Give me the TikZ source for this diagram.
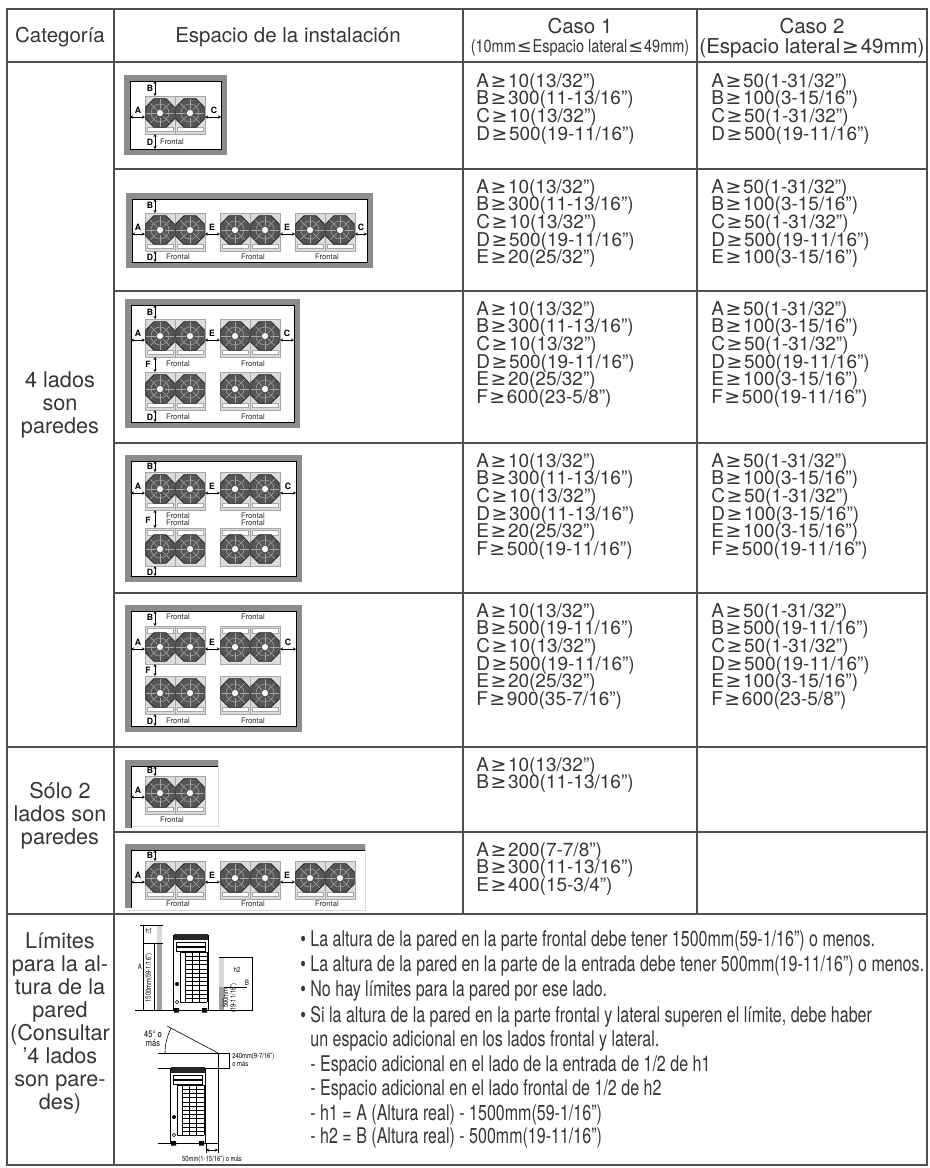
\documentclass[tikz,border=0pt]{standalone}
\usepackage{fontspec}
\setmainfont{TeX Gyre Heros}
\newfontfamily\condfont[FakeStretch=0.8]{TeX Gyre Heros}
\newfontfamily\subfont[FakeStretch=0.82]{TeX Gyre Heros}
\newfontfamily\notefont[FakeStretch=0.74]{TeX Gyre Heros}
\newfontfamily\symfont{DejaVu Sans}
\usetikzlibrary{arrows.meta}
\definecolor{txt}{HTML}{363636}
\definecolor{rulegray}{HTML}{505050}
\definecolor{wallgray}{HTML}{8C8C8C}
\definecolor{fandark}{HTML}{555555}
\definecolor{fanlight}{HTML}{A8A8A8}
\definecolor{housing}{HTML}{DCDCDC}
\newcommand\gte{\makebox[1em]{\symfont ≥}}
\newcommand\lte{\makebox[0.95em]{\symfont ≤}}
\newcommand\inch{”}
\lineskiplimit=-20pt
\tikzset
{
    rule/.style     = {draw=rulegray, line width=0.9pt},
    hdr/.style      = {font=\fontsize{12.3}{15}\selectfont, text=txt, align=center, inner sep=0pt},
    subhdr/.style   = {font=\subfont\fontsize{10.6}{12}\selectfont, text=txt, align=center, inner sep=0pt},
    cat/.style      = {font=\fontsize{13}{13.8}\selectfont, text=txt, align=center, inner sep=0pt},
    cell/.style     = {font=\fontsize{11.4}{10.6}\selectfont, text=txt, align=left, anchor=north west, inner sep=0pt},
    note/.style     = {font=\notefont\fontsize{13}{12}\selectfont, text=txt, anchor=base west, inner sep=0pt},
    wall/.style     = {draw=wallgray, line width=3.6pt},
    wallin/.style   = {draw=black, line width=0.35pt},
    faint/.style    = {draw=black!15, line width=0.3pt},
    gap/.style      = {{Stealth[length=1.8pt,width=1.8pt]}-{Stealth[length=1.8pt,width=1.8pt]}, line width=0.35pt},
    lbl/.style      = {font=\bfseries\fontsize{5.2}{5}\selectfont, inner sep=0pt},
    frontal/.style  = {font=\fontsize{4.6}{5}\selectfont, text=black!85, inner sep=0pt},
    tiny/.style     = {font=\condfont\fontsize{4.4}{4.6}\selectfont, inner sep=0pt, align=center},
    thinline/.style = {draw=black, line width=0.35pt},
    unitpair/.pic   =
    {
        \fill[housing] (-30,-19) rectangle (30,19);
        \draw[draw=gray!70, line width=0.3pt] (-30,-19) rectangle (30,19) (0,-19) -- (0,19);
        \foreach \s in {-1,1}
        {
            \draw[draw=gray!70, fill=white, line width=0.3pt] (\s*2,12) rectangle (\s*28,16.5);
            \begin{scope}[shift={(\s*15,-2)}]
                \filldraw[fill=fandark, draw=black!85, line width=0.45pt] (22.5:15.5) -- (67.5:15.5) -- (112.5:15.5) -- (157.5:15.5) -- (202.5:15.5) -- (247.5:15.5) -- (292.5:15.5) -- (337.5:15.5) -- cycle;
                \foreach \a in {0,45,...,315}
                    \draw[fanlight, line width=0.35pt] (\a:4.5) -- (\a:14);
                \draw[fanlight, line width=0.3pt] (0,0) circle (9);
                \filldraw[fill=white, draw=black!70, line width=0.3pt] (0,0) circle (3.5);
            \end{scope}
        }
    },
    unitfront/.pic  =
    {
        \draw[line width=0.6pt] (0,0) rectangle (35,75);
        \fill[black!85] (0.5,-1) rectangle (34.5,5);
        \draw[line width=0.3pt] (3,7) rectangle (32,11) (3,12) rectangle (32,16);
        \draw[line width=0.4pt] (7,17) rectangle (12,67);
        \foreach \r in {0,...,12}
            \draw[line width=0.35pt] (12,17+\r*4.2) -- (34,17+\r*4.2);
        \foreach \c in {12,19.3,26.6,34}
            \draw[line width=0.35pt] (\c,17) -- (\c,67.4);
        \fill (4,49) circle (2);
        \draw[line width=0.3pt] (4,67) circle (1.8);
        \fill (1,73) rectangle (6,77.5) (29,73) rectangle (34,77.5);
    }
}

\begin{document}
\begin{tikzpicture}[x=0.6pt, y=-0.6pt]
    \useasboundingbox (0,0) rectangle (930,1168);

    % table rules
    \draw[rule] (7,9) rectangle (927,1165);
    \draw[rule] (7,62) -- (927,62);
    \draw[rule] (114,9) -- (114,1165);
    \draw[rule] (463,9) -- (463,914);
    \draw[rule] (697,9) -- (697,914);
    \foreach \y in {169,291,443,593,832}
        \draw[rule] (114,\y) -- (927,\y);
    \foreach \y in {747,914}
        \draw[rule] (7,\y) -- (927,\y);

    % header
    \node[hdr] (hcat) at (60,37) {Categoría};
    \node[hdr] (hesp) at (288,37) {Espacio de la instalación};
    \node[hdr] (hc1) at (580,26) {Caso 1};
    \node[subhdr] (hc1sub) at (580,48) {(10mm\lte Espacio lateral\lte 49mm)};
    \node[hdr] (hc2) at (812,26) {Caso 2};
    \node[hdr] (hc2sub) at (812,48) {(Espacio lateral\gte 49mm)};

    % categories
    \node[cat] (cat4) at (60,405) {4 lados\\son\\paredes};
    \node[cat] (cat2) at (60,816) {Sólo 2\\lados son\\paredes};
    \node[cat] (catlim) at (60,1023) {Límites\\para la al-\\tura de la\\pared\\(Consultar\\'4 lados\\son pare-\\des)};

    % row 1
    \draw[wall] (127,78) rectangle (224,152);
    \draw[wallin] (130,81) rectangle (221,149);
    \pic at (175,115) {unitpair};
    \node[lbl] (b1) at (150,88) {B};
    \draw[gap] (155,81) -- (155,96);
    \node[lbl] (a1) at (138,110) {A};
    \draw[gap] (130,117) -- (145,117);
    \node[lbl] (c1) at (214,110) {C};
    \draw[gap] (205,117) -- (221,117);
    \node[lbl] (d1) at (150,142) {D};
    \draw[gap] (155,134) -- (155,149);
    \node[frontal] (f1) at (172,142) {Frontal};

    % row 2
    \draw[wall] (129,196) rectangle (370,265);
    \draw[wallin] (132,199) rectangle (367,262);
    \foreach \x in {175,250,325}
        \pic at (\x,232) {unitpair};
    \node[lbl] (b2) at (150,205) {B};
    \draw[gap] (155,199) -- (155,213);
    \node[lbl] (a2) at (138,227) {A};
    \draw[gap] (132,234) -- (145,234);
    \node[lbl] (e2a) at (212,227) {E};
    \draw[gap] (205,234) -- (220,234);
    \node[lbl] (e2b) at (287,227) {E};
    \draw[gap] (280,234) -- (295,234);
    \node[lbl] (c2) at (361,227) {C};
    \draw[gap] (355,234) -- (367,234);
    \node[lbl] (d2) at (150,257) {D};
    \draw[gap] (155,251) -- (155,262);
    \node[frontal] (f2a) at (178,257) {Frontal};
    \node[frontal] (f2b) at (253,257) {Frontal};
    \node[frontal] (f2c) at (327,257) {Frontal};

    % row 3
    \draw[wall] (128,302) rectangle (297,425);
    \draw[wallin] (131,305) rectangle (294,422);
    \foreach \x in {175,250}
    {
        \pic at (\x,338) {unitpair};
        \pic at (\x,391) {unitpair};
    }
    \node[lbl] (b3) at (150,312) {B};
    \draw[gap] (155,305) -- (155,319);
    \node[lbl] (a3) at (138,333) {A};
    \draw[gap] (131,340) -- (145,340);
    \node[lbl] (e3) at (212,333) {E};
    \draw[gap] (205,340) -- (220,340);
    \node[lbl] (c3) at (287,333) {C};
    \draw[gap] (280,340) -- (294,340);
    \node[lbl] (ff3) at (148,364) {F};
    \draw[gap] (155,357) -- (155,372);
    \node[frontal] (f3a) at (178,364) {Frontal};
    \node[frontal] (f3b) at (253,364) {Frontal};
    \node[lbl] (d3) at (150,417) {D};
    \draw[gap] (155,410) -- (155,422);
    \node[frontal] (f3c) at (178,417) {Frontal};
    \node[frontal] (f3d) at (253,417) {Frontal};

    % row 4
    \draw[wall] (128,458) rectangle (299,579);
    \draw[wallin] (131,461) rectangle (296,576);
    \foreach \x in {175,250}
    {
        \pic at (\x,491) {unitpair};
        \pic[yscale=-1] at (\x,547) {unitpair};
    }
    \node[lbl] (b4) at (150,466) {B};
    \draw[gap] (155,461) -- (155,472);
    \node[lbl] (a4) at (138,486) {A};
    \draw[gap] (131,493) -- (145,493);
    \node[lbl] (e4) at (212,486) {E};
    \draw[gap] (205,493) -- (220,493);
    \node[lbl] (c4) at (288,486) {C};
    \draw[gap] (280,493) -- (296,493);
    \node[lbl] (ff4) at (148,520) {F};
    \draw[gap] (155,510) -- (155,528);
    \node[frontal] (f4a) at (178,516) {Frontal};
    \node[frontal] (f4b) at (253,516) {Frontal};
    \node[frontal] (f4c) at (178,523) {Frontal};
    \node[frontal] (f4d) at (253,523) {Frontal};
    \node[lbl] (d4) at (150,572) {D};
    \draw[gap] (155,566) -- (155,576);

    % row 5
    \draw[wall] (128,608) rectangle (299,729);
    \draw[wallin] (131,611) rectangle (296,726);
    \foreach \x in {175,250}
    {
        \pic[yscale=-1] at (\x,645) {unitpair};
        \pic at (\x,695) {unitpair};
    }
    \node[lbl] (b5) at (150,617) {B};
    \draw[gap] (155,611) -- (155,626);
    \node[frontal] (f5a) at (178,617) {Frontal};
    \node[frontal] (f5b) at (253,617) {Frontal};
    \node[lbl] (a5) at (138,642) {A};
    \draw[gap] (131,649) -- (145,649);
    \node[lbl] (e5) at (212,642) {E};
    \draw[gap] (205,649) -- (220,649);
    \node[lbl] (c5) at (288,642) {C};
    \draw[gap] (280,649) -- (296,649);
    \node[lbl] (ff5) at (148,670) {F};
    \draw[gap] (155,664) -- (155,676);
    \node[lbl] (d5) at (150,721) {D};
    \draw[gap] (155,714) -- (155,726);
    \node[frontal] (f5c) at (178,721) {Frontal};
    \node[frontal] (f5d) at (253,721) {Frontal};

    % row 6
    \draw[faint] (126,826) -- (218,826) -- (218,760);
    \draw[wall] (128,828) -- (128,763) -- (218,763);
    \draw[wallin] (131,828) -- (131,766) -- (218,766);
    \pic at (175,795) {unitpair};
    \node[lbl] (b6) at (150,770) {B};
    \draw[gap] (155,766) -- (155,776);
    \node[lbl] (a6) at (138,790) {A};
    \draw[gap] (131,797) -- (145,797);
    \node[frontal] (f6) at (172,820) {Frontal};

    % row 7
    \draw[faint] (126,910) -- (365,910) -- (365,845);
    \draw[wall] (128,908) -- (128,847) -- (365,847);
    \draw[wallin] (131,908) -- (131,850) -- (365,850);
    \foreach \x in {175,250,325}
        \pic at (\x,880) {unitpair};
    \node[lbl] (b7) at (150,855) {B};
    \draw[gap] (155,850) -- (155,861);
    \node[lbl] (a7) at (138,875) {A};
    \draw[gap] (131,882) -- (145,882);
    \node[lbl] (e7a) at (212,875) {E};
    \draw[gap] (205,882) -- (220,882);
    \node[lbl] (e7b) at (287,875) {E};
    \draw[gap] (280,882) -- (295,882);
    \node[frontal] (f7a) at (178,904) {Frontal};
    \node[frontal] (f7b) at (253,904) {Frontal};
    \node[frontal] (f7c) at (327,904) {Frontal};

    % wall height limits, side view
    \draw[thinline] (135,1010) -- (253,1010);
    \fill[gray!30] (157,925) rectangle (162,943);
    \fill[gray!75] (157,943) rectangle (162,1010);
    \draw[thinline] (143,925) -- (143,1010);
    \draw[thinline] (140,925) -- (163,925);
    \draw[thinline] (143,943) -- (163,943);
    \draw[thinline] (154,943) -- (154,1010);
    \node[tiny] (h1) at (149,931) {h1};
    \node[tiny, anchor=east] (dima) at (142,967) {A};
    \node[tiny, rotate=90] (d1500) at (149,978) {1500mm(59-1/16\inch)};
    \pic at (173,935) {unitfront};
    \fill[gray!30] (219,957) rectangle (224,987);
    \fill[gray!75] (219,987) rectangle (224,1010);
    \draw[thinline] (219,957) -- (253,957);
    \draw[thinline] (252,957) -- (252,1010);
    \draw[thinline] (224,987) -- (247,987);
    \node[tiny] (h2) at (237,970) {h2};
    \node[tiny] (dimb) at (247,983) {B};
    \node[tiny, rotate=90] (d500) at (230,998) {500mm\\(19-11/16\inch)};

    % wall height limits, clearance above
    \draw[thinline] (167,1026) -- (218,1053);
    \draw[thinline] (158,1053) -- (230,1053);
    \draw[thinline] ([shift={(180:53)}]218,1053) arc[start angle=180, end angle=208, radius=53];
    \node[tiny, font=\condfont\fontsize{5.6}{5.2}\selectfont] (ang) at (153,1039) {45° o\\más};
    \draw[thinline] (229,1053) -- (229,1068);
    \draw[thinline] (158,1068) -- (230,1068);
    \node[tiny, anchor=west] (d240) at (232,1057) {240mm(9-7/16\inch)};
    \node[tiny, anchor=west] (d240b) at (232,1064) {o más};
    \draw[thinline] (218,1053) -- (218,1153);
    \pic at (170,1068) {unitfront};
    \draw[thinline] (158,1143) -- (218,1143);
    \draw[thinline] (206,1143) -- (206,1153);
    \draw[gap] (206,1150) -- (218,1150);
    \node[tiny] (d50) at (212,1160) {50mm(1-15/16\inch) o más};

    % caso 1 and caso 2
    \node[cell] (r1c1) at (476,73) {A\gte 10(13/32\inch)\\B\gte 300(11-13/16\inch)\\C\gte 10(13/32\inch)\\D\gte 500(19-11/16\inch)};
    \node[cell] (r1c2) at (711,73) {A\gte 50(1-31/32\inch)\\B\gte 100(3-15/16\inch)\\C\gte 50(1-31/32\inch)\\D\gte 500(19-11/16\inch)};
    \node[cell] (r2c1) at (476,179) {A\gte 10(13/32\inch)\\B\gte 300(11-13/16\inch)\\C\gte 10(13/32\inch)\\D\gte 500(19-11/16\inch)\\E\gte 20(25/32\inch)};
    \node[cell] (r2c2) at (711,179) {A\gte 50(1-31/32\inch)\\B\gte 100(3-15/16\inch)\\C\gte 50(1-31/32\inch)\\D\gte 500(19-11/16\inch)\\E\gte 100(3-15/16\inch)};
    \node[cell] (r3c1) at (476,301) {A\gte 10(13/32\inch)\\B\gte 300(11-13/16\inch)\\C\gte 10(13/32\inch)\\D\gte 500(19-11/16\inch)\\E\gte 20(25/32\inch)\\F\gte 600(23-5/8\inch)};
    \node[cell] (r3c2) at (711,301) {A\gte 50(1-31/32\inch)\\B\gte 100(3-15/16\inch)\\C\gte 50(1-31/32\inch)\\D\gte 500(19-11/16\inch)\\E\gte 100(3-15/16\inch)\\F\gte 500(19-11/16\inch)};
    \node[cell] (r4c1) at (476,453) {A\gte 10(13/32\inch)\\B\gte 300(11-13/16\inch)\\C\gte 10(13/32\inch)\\D\gte 300(11-13/16\inch)\\E\gte 20(25/32\inch)\\F\gte 500(19-11/16\inch)};
    \node[cell] (r4c2) at (711,453) {A\gte 50(1-31/32\inch)\\B\gte 100(3-15/16\inch)\\C\gte 50(1-31/32\inch)\\D\gte 100(3-15/16\inch)\\E\gte 100(3-15/16\inch)\\F\gte 500(19-11/16\inch)};
    \node[cell] (r5c1) at (476,603) {A\gte 10(13/32\inch)\\B\gte 500(19-11/16\inch)\\C\gte 10(13/32\inch)\\D\gte 500(19-11/16\inch)\\E\gte 20(25/32\inch)\\F\gte 900(35-7/16\inch)};
    \node[cell] (r5c2) at (711,603) {A\gte 50(1-31/32\inch)\\B\gte 500(19-11/16\inch)\\C\gte 50(1-31/32\inch)\\D\gte 500(19-11/16\inch)\\E\gte 100(3-15/16\inch)\\F\gte 600(23-5/8\inch)};
    \node[cell] (r6c1) at (476,757) {A\gte 10(13/32\inch)\\B\gte 300(11-13/16\inch)};
    \node[cell] (r7c1) at (476,842) {A\gte 200(7-7/8\inch)\\B\gte 300(11-13/16\inch)\\E\gte 400(15-3/4\inch)};

    % limits text
    \node[note] (lim1) at (300,946) {• La altura de la pared en la parte frontal debe tener 1500mm(59-1/16\inch) o menos.};
    \node[note] (lim2) at (300,971) {• La altura de la pared en la parte de la entrada debe tener 500mm(19-11/16\inch) o menos.};
    \node[note] (lim3) at (300,996) {• No hay límites para la pared por ese lado.};
    \node[note] (lim4) at (300,1022) {• Si la altura de la pared en la parte frontal y lateral superen el límite, debe haber};
    \node[note] (lim5) at (300,1046) {\phantom{• }un espacio adicional en los lados frontal y lateral.};
    \node[note] (lim6) at (300,1071) {\phantom{• }- Espacio adicional en el lado de la entrada de 1/2 de h1};
    \node[note] (lim7) at (300,1095) {\phantom{• }- Espacio adicional en el lado frontal de 1/2 de h2};
    \node[note] (lim8) at (300,1120) {\phantom{• }- h1 = A (Altura real) - 1500mm(59-1/16\inch)};
    \node[note] (lim9) at (300,1143) {\phantom{• }- h2 = B (Altura real) - 500mm(19-11/16\inch)};
\end{tikzpicture}
\end{document}
